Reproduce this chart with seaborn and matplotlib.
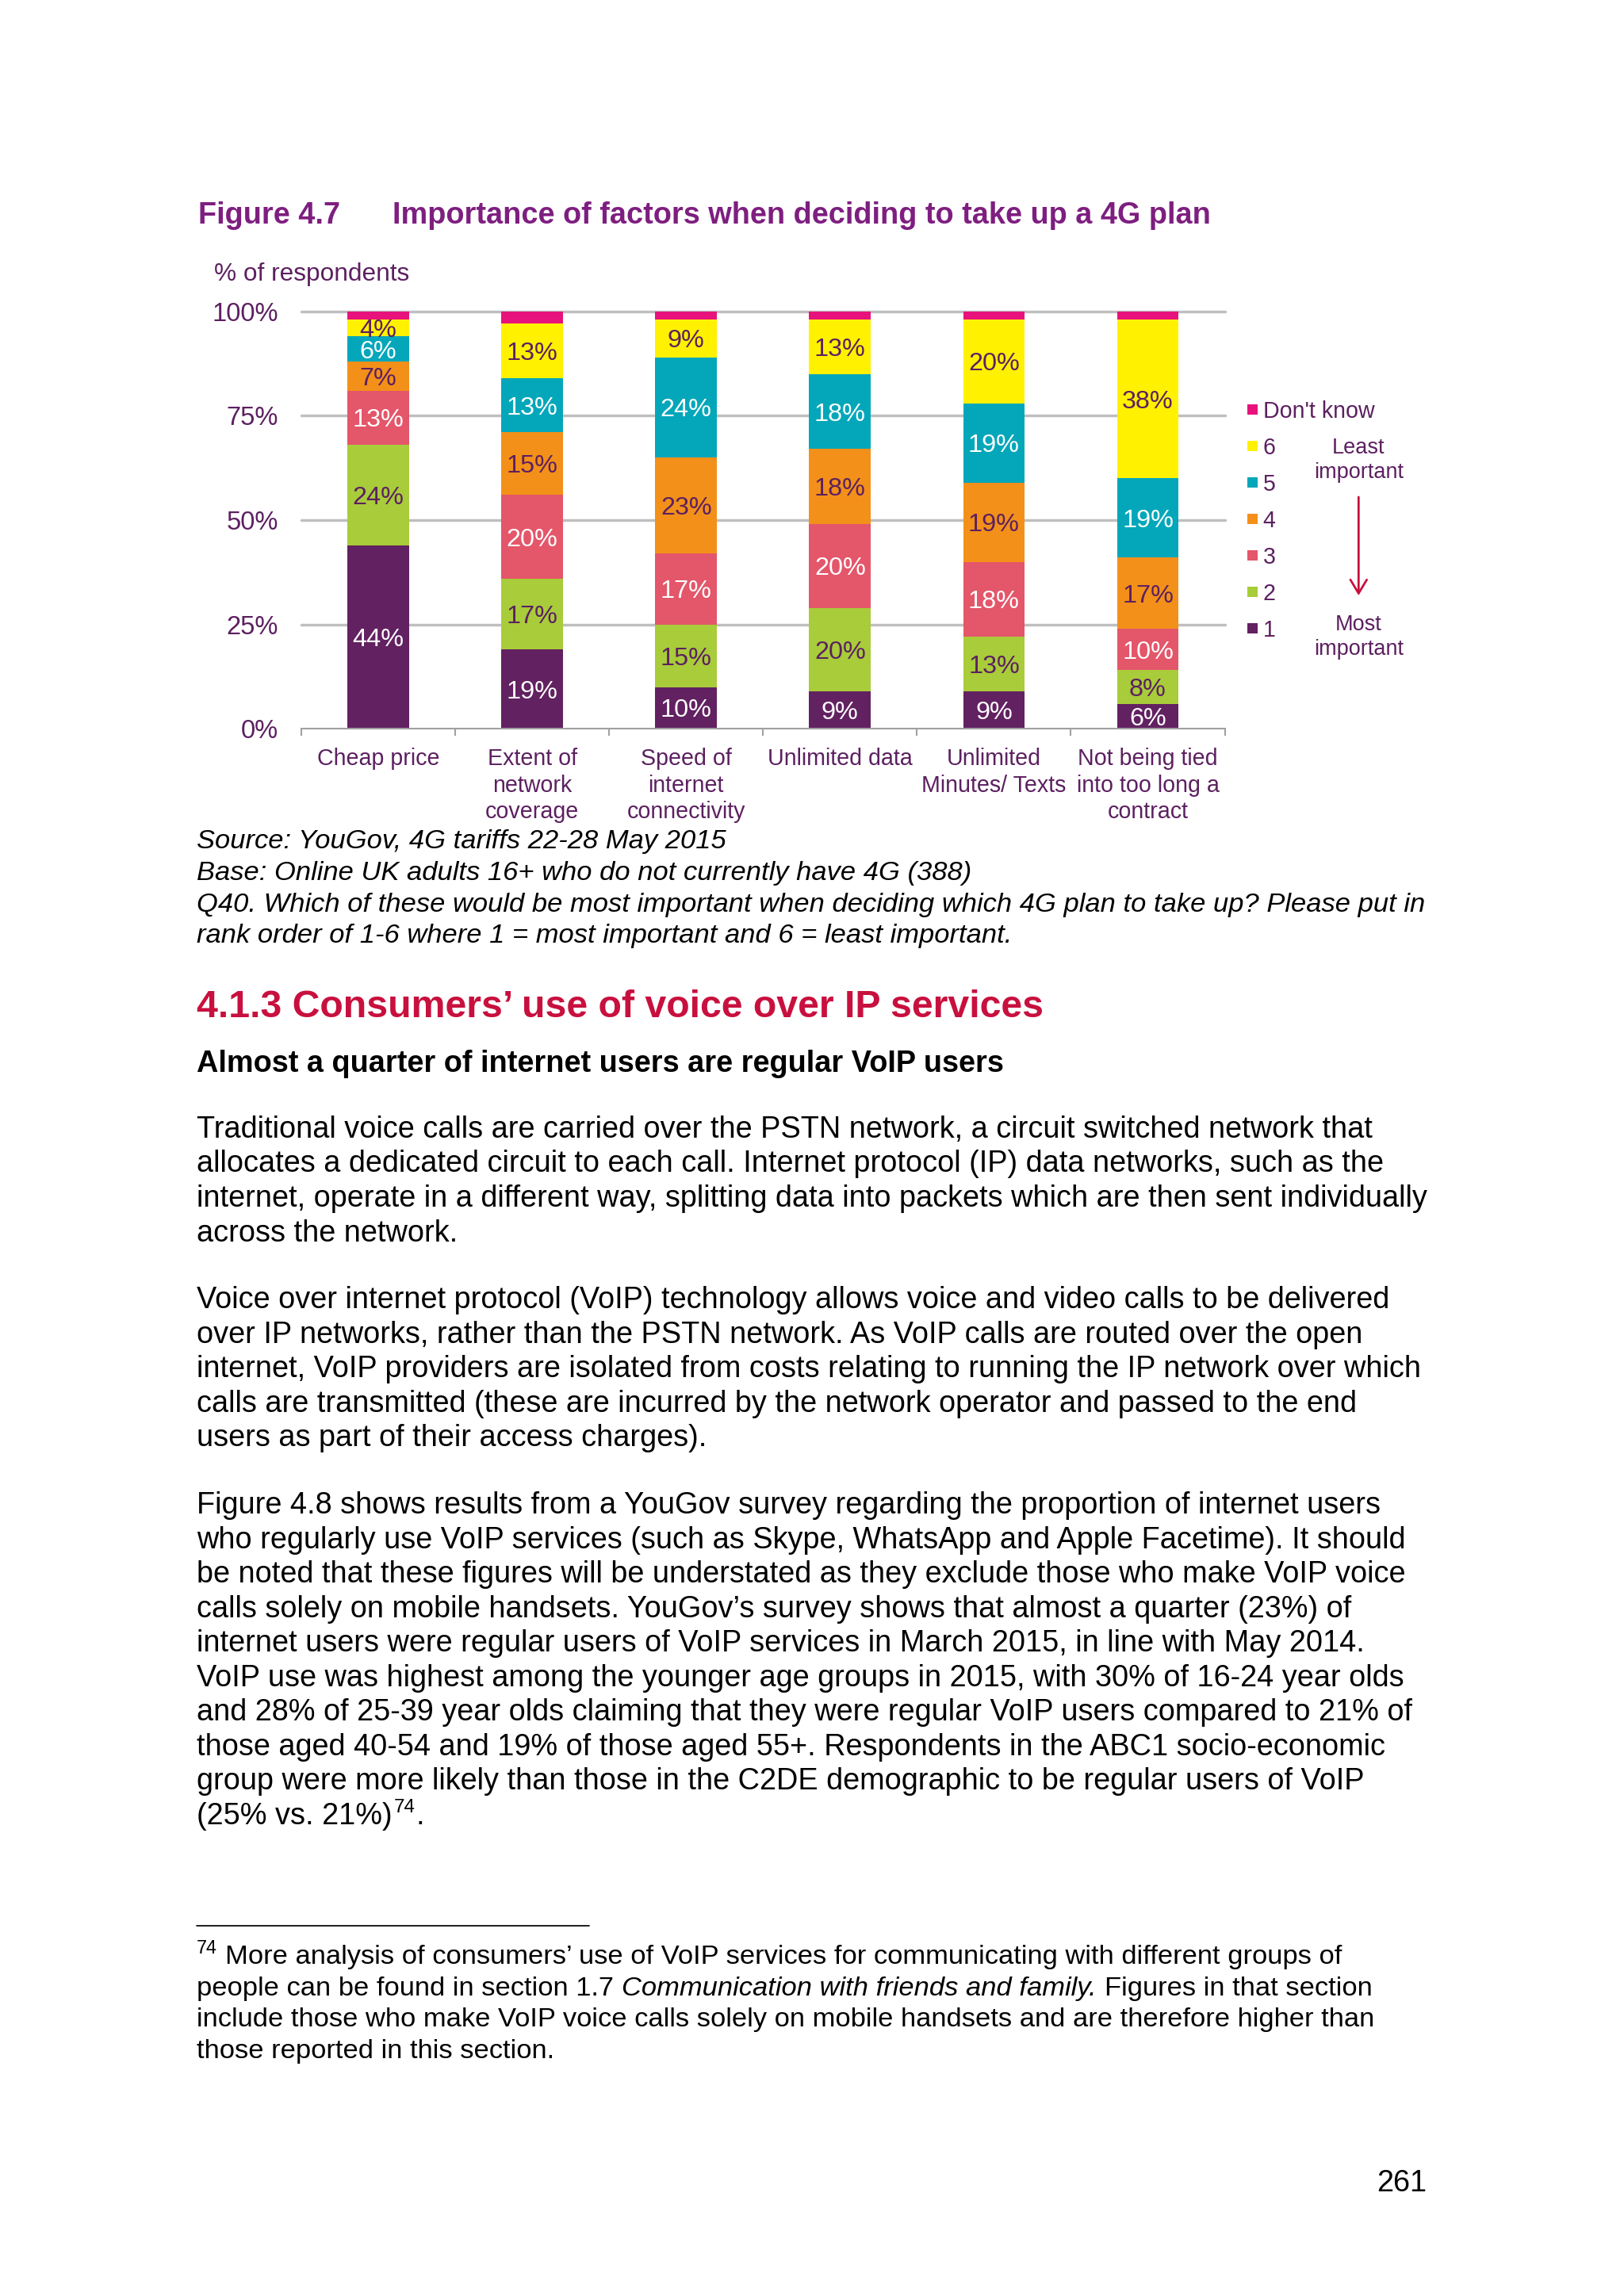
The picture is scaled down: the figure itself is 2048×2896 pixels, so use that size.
import numpy as np
import pandas as pd
import seaborn as sns
import matplotlib
matplotlib.use("Agg")
import matplotlib.pyplot as plt
from matplotlib.patches import Rectangle, FancyArrowPatch
from matplotlib.lines import Line2D
from matplotlib.text import Annotation

# ---------------- data ----------------
categories = ["Cheap price", "Extent of\nnetwork\ncoverage", "Speed of\ninternet\nconnectivity",
              "Unlimited data", "Unlimited\nMinutes/ Texts", "Not being tied\ninto too long a\ncontract"]
rank_1 = [44, 19, 10, 9, 9, 6]
rank_2 = [24, 17, 15, 20, 13, 8]
rank_3 = [13, 20, 17, 20, 18, 10]
rank_4 = [7, 15, 23, 18, 19, 17]
rank_5 = [6, 13, 24, 18, 19, 19]
rank_6 = [4, 13, 9, 13, 20, 38]
dont_know = [2, 3, 2, 2, 2, 2]
levels = ["1", "2", "3", "4", "5", "6", "Don't know"]
y_ticks = [0, 25, 50, 75, 100]

# ---------------- style ----------------
DARK = "#5C2060"
TITLE = "#7E1E80"
CRIMSON = "#C8103E"
level_colors = ["#622161", "#A8CC3A", "#E4566A", "#F39019", "#04A7BA", "#FFF100", "#E8127D"]
label_colors = ["white", DARK, "white", DARK, "white", DARK, None]

sns.set_theme(style="white")
plt.rcParams["font.family"] = ["Liberation Sans", "DejaVu Sans"]

W, H, DPI = 2048, 2896, 248
fig = plt.figure(figsize=(W / DPI, H / DPI), dpi=DPI)
fig.patch.set_facecolor("white")


def X(px):
    return px / W


def Y(py):
    return 1 - py / H


def ftext(x, y, s, **kw):
    kw.setdefault("va", "baseline")
    kw.setdefault("ha", "left")
    return fig.text(X(x), Y(y), s, **kw)


def chain(prev, s, y, gap_pt=0.0, **kw):
    a = Annotation(s, xy=(1, Y(y)), xycoords=(prev, "figure fraction"),
                   xytext=(gap_pt, 0), textcoords="offset points",
                   va="baseline", ha="left", **kw)
    fig.add_artist(a)
    return a


# ---------------- chart ----------------
series = [rank_1, rank_2, rank_3, rank_4, rank_5, rank_6, dont_know]
rows = []
for ci, cat in enumerate(categories):
    top = 0
    for lev, vals in zip(levels, series):
        bottom = top
        top = bottom + vals[ci]
        rows.append((cat, lev, vals[ci], bottom, top))
df = pd.DataFrame(rows, columns=["category", "level", "value", "bottom", "top"])

ax_l, ax_r, ax_t, ax_b = 380, 1544.5, 392.7, 919.2
ax = fig.add_axes([X(ax_l), Y(ax_b), X(ax_r) - X(ax_l), Y(ax_t) - Y(ax_b)])

# stacked bars: draw cumulative totals from the top level down
for lev, col in reversed(list(zip(levels, level_colors))):
    sub = df[df["level"] == lev]
    sns.barplot(data=sub, x="category", y="top", order=categories, color=col,
                width=0.4, saturation=1, errorbar=None, linewidth=0, ax=ax, zorder=2)

for _, r in df.iterrows():
    li = levels.index(r["level"])
    if label_colors[li] is None:
        continue
    i = categories.index(r["category"])
    ax.text(i, (r["bottom"] + r["top"]) / 2, f"{r['value']}%", ha="center",
            va="center_baseline", fontsize=9.4, color=label_colors[li], zorder=5)

ax.set_xlim(-0.5, len(categories) - 0.5)
ax.set_ylim(0, 100)
ax.set_yticks(y_ticks)
ax.set_yticklabels([f"{v}%" for v in y_ticks], fontsize=9.5, color=DARK)
ax.set_xticks(range(len(categories)))
ax.set_xticklabels(categories, fontsize=8.3, color=DARK, linespacing=1.25)
ax.set_xticks(np.arange(-0.5, len(categories)), minor=True)
ax.tick_params(axis="y", length=0, pad=8.5)
ax.tick_params(axis="x", which="major", length=0, pad=7)
ax.tick_params(axis="x", which="minor", length=2.5, width=0.6, color="#A0A0A0", direction="out", bottom=True)
ax.set_xlabel("")
ax.set_ylabel("")
ax.set_facecolor("none")
for s in ["left", "top", "right"]:
    ax.spines[s].set_visible(False)
ax.spines["bottom"].set_color("#A0A0A0")
ax.spines["bottom"].set_linewidth(0.6)
ax.spines["bottom"].set_zorder(3)
ax.yaxis.grid(True, color="#BFBFBF", linewidth=1.0)
ax.xaxis.grid(False)
ax.set_axisbelow(True)
for gl in ax.get_ygridlines():
    gl.set_clip_on(False)
ax.get_ygridlines()[0].set_visible(False)

# legend (manual, top = Don't know)
leg_x = 1572.7
leg_y0 = 516
leg_step = 46
sq = 13
for k, (lev, col) in enumerate(reversed(list(zip(levels, level_colors)))):
    cy = leg_y0 + k * leg_step
    fig.add_artist(Rectangle((X(leg_x), Y(cy + sq / 2)), sq / W, sq / H,
                             transform=fig.transFigure, facecolor=col, edgecolor="none"))
    ftext(leg_x + sq + 7, cy, lev, va="center_baseline", fontsize=8.3, color=DARK)

ftext(1713.3, 571.7, "Least", ha="center", fontsize=7.9, color=DARK)
ftext(1713.3, 602.7, "important", ha="center", fontsize=7.9, color=DARK)
ftext(1713.3, 795, "Most", ha="center", fontsize=7.9, color=DARK)
ftext(1713.3, 826, "important", ha="center", fontsize=7.9, color=DARK)
fig.add_artist(FancyArrowPatch((X(1713.3), Y(620)), (X(1713.3), Y(758)),
                               transform=fig.transFigure, arrowstyle="->,head_length=0.5,head_width=0.3",
                               mutation_scale=10, color=CRIMSON, lw=0.8))

# titles
ftext(249.5, 281.7, "Figure 4.7", fontsize=11, fontweight="bold", color=TITLE)
ftext(495.4, 281.7, "Importance of factors when deciding to take up a 4G plan",
      fontsize=11, fontweight="bold", color=TITLE)
ftext(269.9, 354, "% of respondents", fontsize=9.2, color=DARK)

# source notes
LM = 248
src_lines = [
    "Source: YouGov, 4G tariffs 22-28 May 2015",
    "Base: Online UK adults 16+ who do not currently have 4G (388)",
    "Q40. Which of these would be most important when deciding which 4G plan to take up? Please put in",
    "rank order of 1-6 where 1 = most important and 6 = least important.",
]
for k, s in enumerate(src_lines):
    ftext(LM, 1070.2 + k * 39.7, s, fontsize=10, fontstyle="italic", color="black")

ftext(LM, 1283, "4.1.3 Consumers\u2019 use of voice over IP services", fontsize=14,
      fontweight="bold", color=CRIMSON)
ftext(LM, 1352, "Almost a quarter of internet users are regular VoIP users", fontsize=11,
      fontweight="bold", color="black")

p1 = [
    "Traditional voice calls are carried over the PSTN network, a circuit switched network that",
    "allocates a dedicated circuit to each call. Internet protocol (IP) data networks, such as the",
    "internet, operate in a different way, splitting data into packets which are then sent individually",
    "across the network.",
]
p2 = [
    "Voice over internet protocol (VoIP) technology allows voice and video calls to be delivered",
    "over IP networks, rather than the PSTN network. As VoIP calls are routed over the open",
    "internet, VoIP providers are isolated from costs relating to running the IP network over which",
    "calls are transmitted (these are incurred by the network operator and passed to the end",
    "users as part of their access charges).",
]
p3 = [
    "Figure 4.8 shows results from a YouGov survey regarding the proportion of internet users",
    "who regularly use VoIP services (such as Skype, WhatsApp and Apple Facetime). It should",
    "be noted that these figures will be understated as they exclude those who make VoIP voice",
    "calls solely on mobile handsets. YouGov\u2019s survey shows that almost a quarter (23%) of",
    "internet users were regular users of VoIP services in March 2015, in line with May 2014.",
    "VoIP use was highest among the younger age groups in 2015, with 30% of 16-24 year olds",
    "and 28% of 25-39 year olds claiming that they were regular VoIP users compared to 21% of",
    "those aged 40-54 and 19% of those aged 55+. Respondents in the ABC1 socio-economic",
    "group were more likely than those in the C2DE demographic to be regular users of VoIP",
    "(25% vs. 21%)",
]
LS = 43.5
for k, s in enumerate(p1):
    ftext(LM, 1435 + k * LS, s, fontsize=11, color="black")
for k, s in enumerate(p2):
    ftext(LM, 1650.3 + k * LS, s, fontsize=11, color="black")
last = None
for k, s in enumerate(p3):
    last = ftext(LM, 1909.1 + k * LS, s, fontsize=11, color="black")
yl = 1909.1 + (len(p3) - 1) * LS
sup = chain(last, "74", yl - 15, gap_pt=0.6, fontsize=7, color="black")
chain(sup, ".", yl, gap_pt=0.4, fontsize=11, color="black")

# footnote
fig.add_artist(Line2D([X(248), X(743)], [Y(2429), Y(2429)], transform=fig.transFigure,
                      color="black", lw=0.5))
FB = 2477
FS = 39.6
s1 = ftext(LM, FB - 13, "74", fontsize=6.8, color="black")
chain(s1, "More analysis of consumers\u2019 use of VoIP services for communicating with different groups of",
      FB, gap_pt=2.8, fontsize=10, color="black")
a = ftext(LM, FB + FS, "people can be found in section 1.7", fontsize=10, color="black")
b = chain(a, "Communication with friends and family.", FB + FS, gap_pt=2.9, fontsize=10,
          fontstyle="italic", color="black")
chain(b, "Figures in that section", FB + FS, gap_pt=2.9, fontsize=10, color="black")
ftext(LM, FB + 2 * FS, "include those who make VoIP voice calls solely on mobile handsets and are therefore higher than",
      fontsize=10, color="black")
ftext(LM, FB + 3 * FS, "those reported in this section.", fontsize=10, color="black")

ftext(1799, 2764, "261", ha="right", fontsize=11, color="black")

fig.savefig("out.png", dpi=DPI, facecolor="white")
